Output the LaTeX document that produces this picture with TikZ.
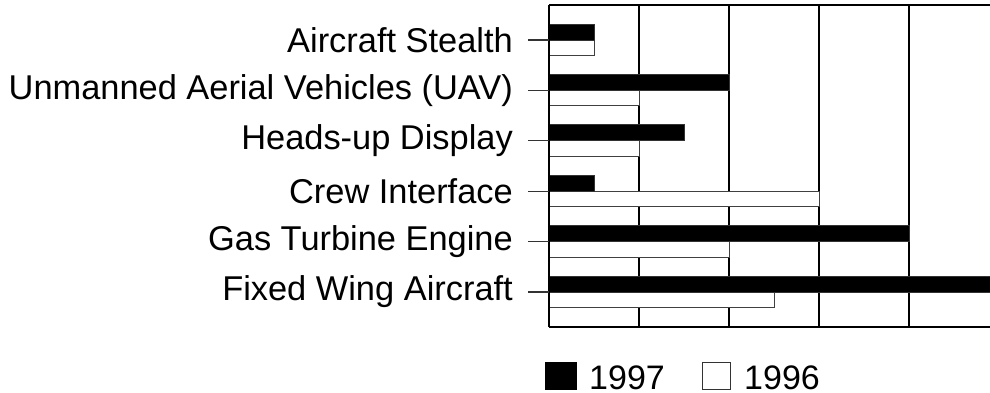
\documentclass[tikz,border=0pt]{standalone}
\usepackage{fontspec}
\setmainfont{Liberation Sans}
\begin{document}
\begin{tikzpicture}[x=1pt,y=-1pt,
  lbl/.style={anchor=east,inner sep=0pt,font=\fontsize{34.4}{40}\selectfont},
  leg/.style={anchor=base west,inner sep=0pt,text depth=0pt,font=\fontsize{34}{40}\selectfont},
  gridln/.style={line width=1.8pt,black},
  frame/.style={line width=1.8pt,black},
  tickln/.style={line width=1.2pt,black!80},
  barA/.style={fill=black,draw=black!80,line width=0.8pt},
  barB/.style={fill=white,draw=black!75,line width=0.9pt}]
\useasboundingbox (0,0) rectangle (990,393);
% grid
\foreach \k in {0,...,4}{
  \draw[gridln] ({549+90*\k},5) -- ({549+90*\k},327);
}
\draw[frame] (549,5) -- (992,5);
\draw[frame] (549,327) -- (992,327);
% bars: values in units of 90px
\def\bars{0/0.5/0.5,1/2/1,2/1.5/1,3/0.5/3,4/4/2,5/5.2/2.5}
\foreach \i/\a/\b in \bars{
  \pgfmathsetmacro{\yy}{40+50.4*\i}
  \draw[barB] (549,\yy) rectangle ({549+90*\b},{\yy+15.5});
  \draw[barA] (549,{\yy-16}) rectangle ({549+90*\a},\yy);
}
% redraw axis line
\draw[gridln] (549,5) -- (549,327);
% labels and ticks
\foreach \i/\t in {0/Aircraft Stealth,1/Unmanned Aerial Vehicles (UAV),2/Heads-up Display,3/Crew Interface,4/Gas Turbine Engine,5/Fixed Wing Aircraft}{
  \pgfmathsetmacro{\yy}{40+50.4*\i}
  \node[lbl] (l\i) at (513,\yy) {\t};
  \coordinate (t\i) at (528,\yy);
  \coordinate (a\i) at (549,\yy);
  \draw[tickln] (t\i) -- (a\i);
}
% legend
\draw[fill=black,draw=black] (545,362) rectangle (576,389);
\node[leg] (y97) at (589,389.5) {1997};
\draw[fill=white,draw=black!80,line width=1pt] (702,362) rectangle (730,389);
\node[leg] (y96) at (744,389.5) {1996};
\end{tikzpicture}
\end{document}
